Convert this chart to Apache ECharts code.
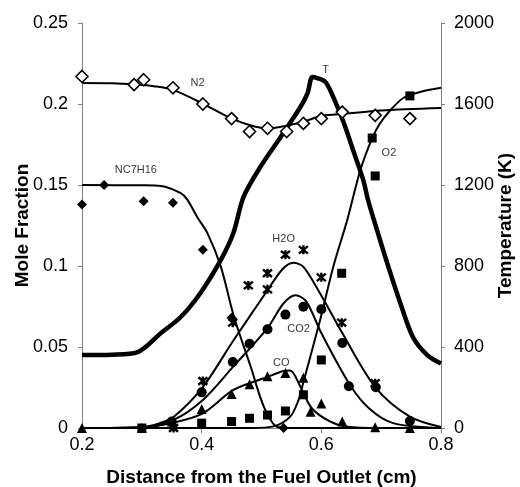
<!DOCTYPE html>
<html><head><meta charset="utf-8">
<script src="https://cdn.jsdelivr.net/npm/echarts@6/dist/echarts.min.js"></script>
<style>html,body{margin:0;padding:0;background:#fff}#c{width:520px;height:487px}</style>
</head><body><div id="c"></div>
<script>
// ---- measured markers (x in cm, mole fraction) ----
const n2Points = [[0.2,0.217],[0.287,0.212],[0.303,0.215],[0.352,0.210],[0.402,0.200],[0.45,0.191],[0.48,0.183],[0.51,0.185],[0.542,0.183],[0.57,0.188],[0.6,0.191],[0.635,0.195],[0.69,0.193],[0.748,0.191]];
const nc7h16Points = [[0.2,0.138],[0.237,0.150],[0.303,0.140],[0.352,0.139],[0.402,0.110],[0.45,0.068],[0.537,0.0]];
const h2oPoints = [[0.353,0.0],[0.402,0.029],[0.452,0.065],[0.478,0.088],[0.51,0.0955],[0.51,0.0856],[0.54,0.107],[0.57,0.110],[0.6,0.093],[0.634,0.065],[0.69,0.0277]];
const co2Points = [[0.35,0.004],[0.4,0.022],[0.452,0.0407],[0.48,0.052],[0.51,0.061],[0.54,0.070],[0.57,0.0748],[0.6,0.0733],[0.635,0.0525],[0.646,0.0258],[0.691,0.0252],[0.748,0.0043]];
const coPoints = [[0.2,0.0],[0.3,0.0],[0.35,0.004],[0.4,0.0117],[0.45,0.021],[0.48,0.027],[0.51,0.032],[0.54,0.034],[0.57,0.031],[0.582,0.010],[0.6,0.0152],[0.635,0.004],[0.69,0.0005],[0.748,0.0]];
const o2Points = [[0.3,0.0],[0.4,0.003],[0.45,0.004],[0.48,0.006],[0.51,0.008],[0.54,0.0105],[0.57,0.0205],[0.6,0.042],[0.634,0.0955],[0.685,0.179],[0.69,0.1556],[0.748,0.205]];

// ---- model curves ----
const n2Curve = [[0.2,0.213],[0.25,0.2128],[0.29,0.212],[0.32,0.211],[0.35,0.209],[0.4,0.2006],[0.45,0.191],[0.49,0.186],[0.515,0.185],[0.54,0.1865],[0.57,0.189],[0.6,0.1926],[0.64,0.194],[0.7,0.196],[0.8,0.1975]];
const nc7h16Curve = [[0.2,0.150],[0.3,0.1498],[0.332,0.1494],[0.365,0.145],[0.376,0.141],[0.393,0.130],[0.41,0.120],[0.432,0.0996],[0.454,0.0687],[0.482,0.0378],[0.504,0.0131],[0.526,0.0008],[0.55,0.0],[0.8,0.0]];
const h2oCurve = [[0.2,0.0],[0.3,0.0005],[0.33,0.003],[0.353,0.0068],[0.402,0.0253],[0.453,0.054],[0.51,0.085],[0.535,0.098],[0.553,0.102],[0.57,0.0995],[0.598,0.083],[0.635,0.0586],[0.69,0.0253],[0.748,0.007],[0.8,0.0006]];
const co2Curve = [[0.2,0.0],[0.3,0.0005],[0.353,0.005],[0.402,0.0173],[0.453,0.038],[0.51,0.0617],[0.537,0.077],[0.557,0.082],[0.575,0.078],[0.6,0.0586],[0.648,0.0265],[0.68,0.012],[0.72,0.003],[0.8,0.0]];
const coCurve = [[0.2,0.0],[0.3,0.0003],[0.35,0.003],[0.402,0.009],[0.453,0.0235],[0.51,0.0315],[0.535,0.035],[0.548,0.0355],[0.565,0.0255],[0.584,0.0122],[0.615,0.0039],[0.643,0.0008],[0.7,0.0],[0.8,0.0]];
const o2Curve = [[0.2,0.0],[0.48,0.0],[0.52,0.001],[0.548,0.007],[0.562,0.0173],[0.568,0.0255],[0.598,0.0667],[0.62,0.0996],[0.643,0.128],[0.665,0.159],[0.685,0.179],[0.698,0.188],[0.715,0.196],[0.737,0.2037],[0.765,0.2074],[0.8,0.210]];
// temperature (K) on right axis
const tCurve = [[0.2,360],[0.25,362],[0.293,375],[0.332,469],[0.365,548],[0.398,667],[0.432,830],[0.453,963],[0.47,1141],[0.498,1289],[0.532,1437],[0.565,1585],[0.577,1654],[0.585,1733],[0.593,1728],[0.607,1708],[0.62,1634],[0.637,1511],[0.653,1373],[0.67,1225],[0.678,1126],[0.693,978],[0.71,815],[0.732,617],[0.753,449],[0.777,360],[0.8,318]];

const curveNames = ['N2','NC7H16','T','O2','H2O','CO2','CO'];
const curveLabelAt = [[0.393,0.213],[0.29,0.159],[0.607,0.221],[0.713,0.170],[0.537,0.1167],[0.562,0.0611],[0.533,0.040]];

const leftTicks = {min:0, max:0.25, step:0.05};
const rightTicks = {min:0, max:2000, step:400};
const xTicks = {min:0.2, max:0.8, step:0.2};

const FONT = 'Liberation Sans, Arial, sans-serif';
const starPath = 'path://M0,0L10,10M10,0L0,10M5,-1L5,11';
const titleStyle = {fontFamily:FONT, fontSize:19, fontWeight:'bold', color:'#000'};

function line(data, w, yIdx){
  return {type:'line', data:data, yAxisIndex:yIdx||0, showSymbol:false, symbol:'none', smooth:0.3,
    lineStyle:{color:'#000', width:w}, z:2, silent:true};
}
function pts(data, symbol, size, fill, bw){
  return {type:'scatter', data:data, symbol:symbol, symbolSize:size, z:5, silent:true,
    itemStyle:{color:fill, borderColor:'#000', borderWidth:bw||0, opacity:1}};
}

const chart = echarts.init(document.getElementById('c'), null, {renderer:'canvas'});
chart.setOption({
  animation:false,
  backgroundColor:'#fff',
  grid:{left:82, right:79, top:23, bottom:59, containLabel:false, outerBoundsMode:'none'},
  xAxis:{type:'value', min:xTicks.min, max:xTicks.max, interval:xTicks.step,
    name:'Distance from the Fuel Outlet (cm)', nameLocation:'middle', nameGap:40, nameMoveOverlap:false,
    nameTextStyle:titleStyle,
    axisLine:{show:true, onZero:false, lineStyle:{color:'#808080', width:1}},
    axisTick:{show:true, inside:false, length:5, lineStyle:{color:'#808080'}},
    axisLabel:{fontFamily:FONT, fontSize:18, color:'#000', margin:8, formatter:v=>v.toFixed(1)},
    splitLine:{show:false}},
  yAxis:[
    {type:'value', min:leftTicks.min, max:leftTicks.max, interval:leftTicks.step, position:'left',
      name:'Mole Fraction', nameLocation:'middle', nameGap:50, nameRotate:90, nameMoveOverlap:false,
      nameTextStyle:titleStyle,
      axisLine:{show:true, lineStyle:{color:'#808080', width:1}},
      axisTick:{show:true, length:4, lineStyle:{color:'#808080'}},
      axisLabel:{fontFamily:FONT, fontSize:18, color:'#000', margin:14, formatter:v=>String(+v.toFixed(2))},
      splitLine:{show:false}},
    {type:'value', min:rightTicks.min, max:rightTicks.max, interval:rightTicks.step, position:'right',
      name:'Temperature (K)', nameLocation:'middle', nameGap:55, nameRotate:90, nameMoveOverlap:false,
      nameTextStyle:titleStyle,
      axisLine:{show:true, lineStyle:{color:'#808080', width:1}},
      axisTick:{show:true, length:4, lineStyle:{color:'#808080'}},
      axisLabel:{fontFamily:FONT, fontSize:18, color:'#000', margin:13, formatter:v=>String(v)},
      splitLine:{show:false}}
  ],
  series:[
    line(n2Curve, 2), line(nc7h16Curve, 2), line(h2oCurve, 2), line(co2Curve, 2), line(coCurve, 2), line(o2Curve, 2),
    line(tCurve, 4.5, 1),
    pts(n2Points, 'diamond', 12, '#fff', 1.6),
    pts(nc7h16Points, 'diamond', 10, '#000', 0),
    pts(h2oPoints, starPath, 9, 'none', 2.4),
    pts(co2Points, 'circle', 10, '#000', 0),
    pts(coPoints, 'triangle', 10, '#000', 0),
    pts(o2Points, 'rect', 9, '#000', 0),
    {type:'scatter', symbolSize:0, z:6, silent:true,
      data: curveNames.map((n,i)=>({name:n, value:curveLabelAt[i]})),
      label:{show:true, position:'inside', formatter:p=>p.name, fontFamily:FONT, fontSize:11, color:'#000'}}
  ]
});
</script></body></html>
